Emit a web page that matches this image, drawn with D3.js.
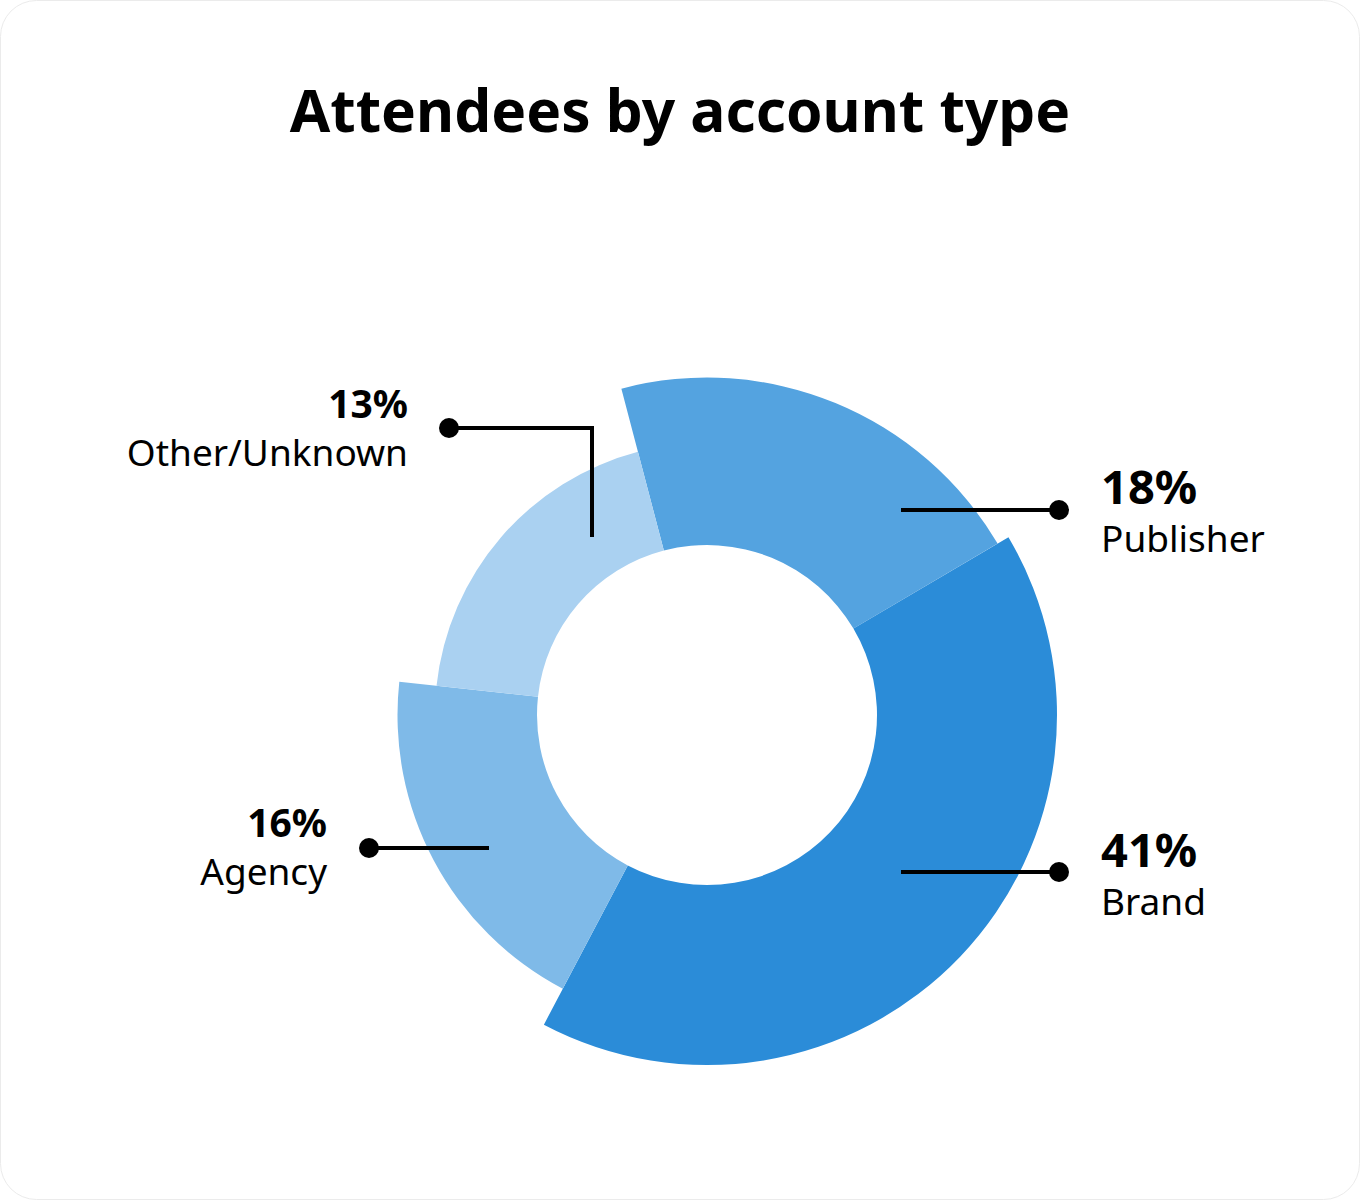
<!DOCTYPE html>
<html>
<head>
<meta charset="utf-8">
<script src="https://cdn.jsdelivr.net/npm/d3@7"></script>
<style>
  html, body { margin: 0; padding: 0; background: #fff; }
  #chart { width: 1360px; height: 1200px; }
</style>
</head>
<body>
<div id="chart"></div>
<script>
// slices in drawing order, clockwise from the top-left cut
var categories = ['Publisher', 'Brand', 'Agency', 'Other/Unknown'];
var percentLabels = [18, 41, 16, 13];
// share of the full turn each slice takes
var sliceShare = [20.6, 41.2, 19.0, 19.2];
// how far each slice reaches out (0 = inner edge, 100 = widest slice)
var reach = [93, 100, 77.5, 56.7];
var colors = ['#54a3e0', '#2b8cd8', '#7fbae8', '#aad1f1'];

var width = 1360, height = 1200;
var cx = 707, cy = 715;
var innerR = 170, maxR = 350;
var startDeg = -14.7;
var font = '"Noto Sans", sans-serif';

// label layout, relative to the centre of the donut
var layout = {
    'Publisher':     { side: 'right', anchor: [194, -205], dot: [352, -205], text: [394, -211] },
    'Brand':         { side: 'right', anchor: [194, 157],  dot: [352, 157],  text: [394, 152] },
    'Agency':        { side: 'left',  anchor: [-218, 133], dot: [-338, 133], text: [-380, 122] },
    'Other/Unknown': { side: 'left',  anchor: [-115, -178], elbow: [-115, -287], dot: [-258, -287], text: [-299, -297] }
};

var data = categories.map(function(c, i) {
    return { name: c, pct: percentLabels[i], share: sliceShare[i], reach: reach[i], color: colors[i] };
});

var svg = d3.select('#chart').append('svg')
    .attr('width', width)
    .attr('height', height);

svg.append('rect')
    .attr('x', 0.5).attr('y', 0.5)
    .attr('width', width - 1).attr('height', height - 1)
    .attr('rx', 36).attr('ry', 36)
    .attr('fill', '#fff')
    .attr('stroke', '#ebebeb')
    .attr('stroke-width', 1);

svg.append('text')
    .attr('x', 680)
    .attr('y', 132)
    .attr('text-anchor', 'middle')
    .attr('font-family', font)
    .attr('font-weight', 700)
    .attr('font-size', 58.6)
    .attr('fill', '#000')
    .text('Attendees by account type');

var rScale = d3.scaleLinear().domain([0, 100]).range([innerR, maxR]);

var pie = d3.pie()
    .sort(null)
    .value(function(d) { return d.share; })
    .startAngle(startDeg * Math.PI / 180)
    .endAngle((startDeg + 360) * Math.PI / 180);

var arc = d3.arc()
    .innerRadius(innerR)
    .outerRadius(function(d) { return rScale(d.data.reach); });

var g = svg.append('g').attr('transform', 'translate(' + cx + ',' + cy + ')');

g.selectAll('path.slice')
    .data(pie(data))
    .enter().append('path')
    .attr('class', 'slice')
    .attr('d', arc)
    .attr('fill', function(d) { return d.data.color; });

// leader lines and labels
var labels = g.selectAll('g.label')
    .data(data)
    .enter().append('g')
    .attr('class', 'label');

labels.append('path')
    .attr('d', function(d) {
        var l = layout[d.name];
        var pts = [l.anchor];
        if (l.elbow) pts.push(l.elbow);
        pts.push(l.dot);
        return d3.line()(pts);
    })
    .attr('fill', 'none')
    .attr('stroke', '#000')
    .attr('stroke-width', 4);

labels.append('circle')
    .attr('cx', function(d) { return layout[d.name].dot[0]; })
    .attr('cy', function(d) { return layout[d.name].dot[1]; })
    .attr('r', 10)
    .attr('fill', '#000');

labels.each(function(d) {
    var l = layout[d.name];
    var sel = d3.select(this);
    var right = l.side === 'right';
    sel.append('text')
        .attr('x', l.text[0])
        .attr('y', l.text[1])
        .attr('text-anchor', right ? 'start' : 'end')
        .attr('font-family', font)
        .attr('font-weight', 700)
        .attr('font-size', right ? 47 : 39)
        .attr('fill', '#000')
        .text(d.pct + '%');
    sel.append('text')
        .attr('x', l.text[0])
        .attr('y', l.text[1] + 48)
        .attr('text-anchor', right ? 'start' : 'end')
        .attr('font-family', font)
        .attr('font-size', 37)
        .attr('fill', '#000')
        .text(d.name);
});
</script>
</body>
</html>
